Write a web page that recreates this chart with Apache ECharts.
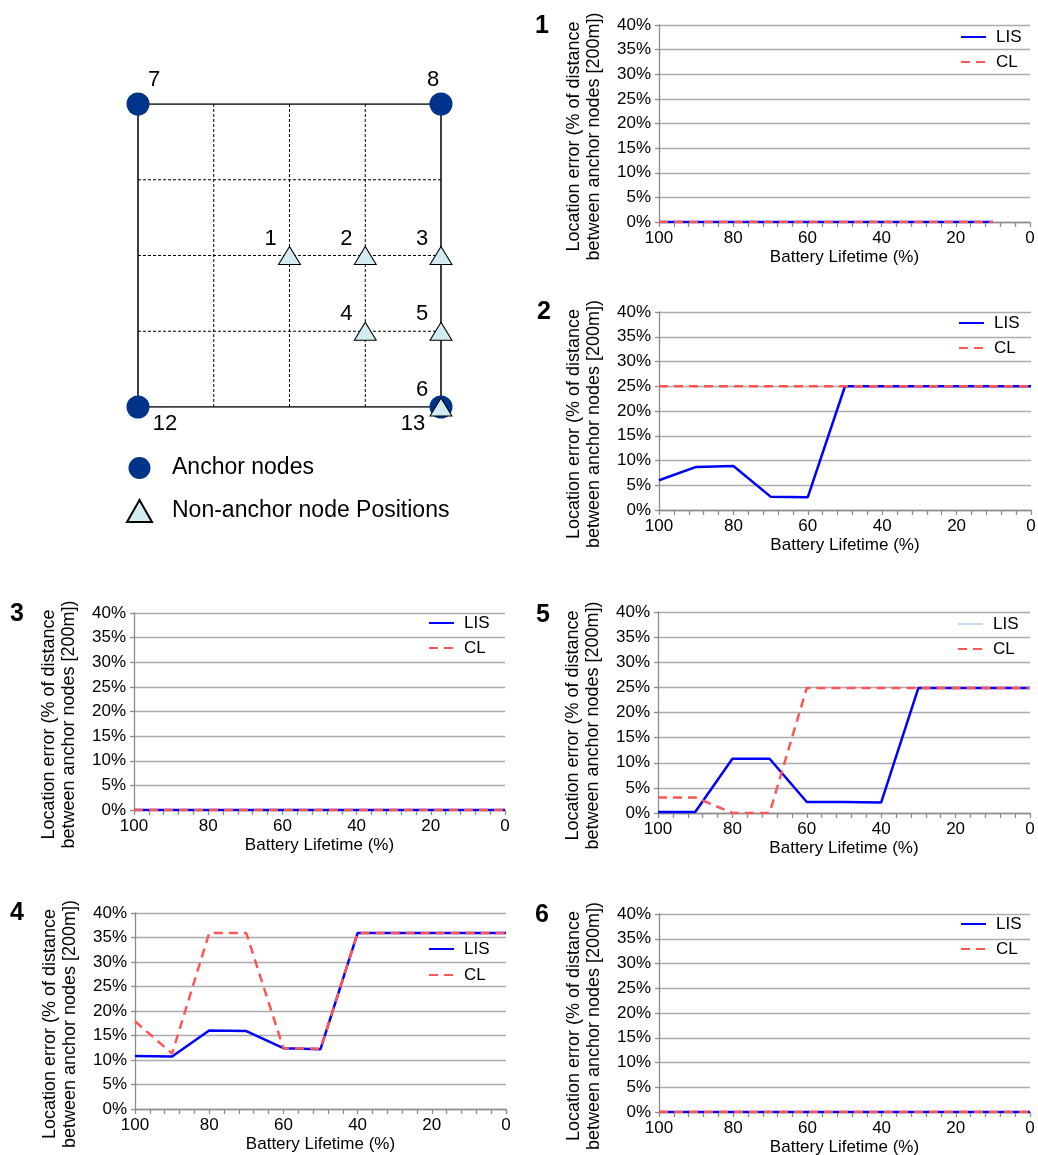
<!DOCTYPE html>
<html><head><meta charset="utf-8">
<script src="https://cdn.jsdelivr.net/npm/echarts@6/dist/echarts.min.js"></script>
<style>html,body{margin:0;padding:0;background:#fff}#c{width:1038px;height:1155px}</style>
</head><body><div id="c"></div>
<script>
// ---------- Diagram data (grid units, 0..4) ----------
const squareSize = 4;
const dashedLines = [1, 2, 3];
const anchorX = [0, 4, 0, 4];
const anchorY = [4, 4, 0, 0];
const anchorLabels = ['7', '8', '12', '13'];
const nodeX = [2, 3, 4, 3, 4, 4];
const nodeY = [2, 2, 2, 1, 1, 0];
const nodeLabels = ['1', '2', '3', '4', '5', '6'];
const diagramLegend = ['Anchor nodes', 'Non-anchor node Positions'];

// ---------- Chart data ----------
const lifetime = [100, 90, 80, 70, 60, 50, 40, 30, 20, 10, 0];
const lifetime1 = [100, 90, 80, 70, 60, 50, 40, 30, 20, 10];
const lis1 = [0, 0, 0, 0, 0, 0, 0, 0, 0, 0];
const cl1 = [0, 0, 0, 0, 0, 0, 0, 0, 0, 0];
const lis2 = [6.0, 8.7, 8.9, 2.7, 2.6, 25, 25, 25, 25, 25, 25];
const cl2 = [25, 25, 25, 25, 25, 25, 25, 25, 25, 25, 25];
const lis3 = [0, 0, 0, 0, 0, 0, 0, 0, 0, 0, 0];
const cl3 = [0, 0, 0, 0, 0, 0, 0, 0, 0, 0, 0];
const lis4 = [10.8, 10.7, 16.0, 15.9, 12.4, 12.2, 35.9, 35.9, 35.9, 35.9, 35.9];
const cl4 = [17.9, 11.3, 35.9, 35.9, 12.4, 12.3, 35.9, 35.9, 35.9, 35.9, 35.9];
const lis5 = [0.2, 0.2, 10.8, 10.8, 2.2, 2.2, 2.1, 24.9, 24.9, 24.9, 24.9];
const cl5 = [3.1, 3.1, 0, 0, 24.9, 24.9, 24.9, 24.9, 24.9, 24.9, 24.9];
const lis6 = [0, 0, 0, 0, 0, 0, 0, 0, 0, 0, 0];
const cl6 = [0, 0, 0, 0, 0, 0, 0, 0, 0, 0, 0];
const seriesNames = ['LIS', 'CL'];
const yMin = 0, yMax = 40, yStep = 5;
const xMin = 0, xMax = 100, xTickStep = 4, xLabelStep = 20;
const xAxisTitle = 'Battery Lifetime (%)';
const yAxisTitle = 'Location error (% of distance\nbetween anchor nodes [200m])';

// ---------- Layout / style ----------
const FONT = 'Liberation Sans, Arial, sans-serif';
const panels = [
  {num: '1', x: lifetime1, lis: lis1, cl: cl1, grid: {left: 659, top: 25, width: 371, height: 197}, leg: {left: 960, top: 28, gap: 7}, numPos: [542, 26]},
  {num: '2', x: lifetime, lis: lis2, cl: cl2, grid: {left: 659, top: 312, width: 372, height: 198}, leg: {left: 958, top: 314, gap: 7}, numPos: [544, 312]},
  {num: '3', x: lifetime, lis: lis3, cl: cl3, grid: {left: 134, top: 613, width: 371, height: 197}, leg: {left: 428, top: 614, gap: 7}, numPos: [17, 614]},
  {num: '5', x: lifetime, lis: lis5, cl: cl5, grid: {left: 658, top: 612, width: 372, height: 201}, leg: {left: 957, top: 615, gap: 7}, numPos: [543, 615], lisLegendColor: '#c5d9f1'},
  {num: '4', x: lifetime, lis: lis4, cl: cl4, grid: {left: 135, top: 913, width: 371, height: 196}, leg: {left: 428, top: 940, gap: 8}, numPos: [17, 913]},
  {num: '6', x: lifetime, lis: lis6, cl: cl6, grid: {left: 659, top: 914, width: 371, height: 198}, leg: {left: 960, top: 915, gap: 7}, numPos: [542, 915]}
];
const anchorLabelOffset = {'7': [16, -24], '8': [-8, -24], '12': [27, 17], '13': [-28, 17]};
const nodeLabelOffset = [-19, -17];

const grids = [{left: 138, top: 104, width: 303, height: 303, outerBoundsMode: 'none', containLabel: false}];
const xAxes = [{gridIndex: 0, type: 'value', min: 0, max: squareSize, show: false}];
const yAxes = [{gridIndex: 0, type: 'value', min: 0, max: squareSize, show: false}];
const series = [];
const legends = [];
const graphics = [];

// Diagram: dashed interior lines
dashedLines.forEach(v => {
  series.push({type: 'line', name: 'gridline', xAxisIndex: 0, yAxisIndex: 0, symbol: 'none', silent: true, z: 1,
    data: [[v, 0], [v, squareSize]], lineStyle: {color: '#000', width: 1, type: [3, 2]}});
  series.push({type: 'line', name: 'gridline', xAxisIndex: 0, yAxisIndex: 0, symbol: 'none', silent: true, z: 1,
    data: [[0, v], [squareSize, v]], lineStyle: {color: '#000', width: 1, type: [3, 2]}});
});
// Diagram: solid square
series.push({type: 'line', name: 'square', xAxisIndex: 0, yAxisIndex: 0, symbol: 'none', silent: true, z: 2,
  data: [[0, 0], [squareSize, 0], [squareSize, squareSize], [0, squareSize], [0, 0]],
  lineStyle: {color: '#000', width: 1.5}});
// Anchors
series.push({type: 'scatter', name: diagramLegend[0], xAxisIndex: 0, yAxisIndex: 0, z: 3,
  symbol: 'circle', symbolSize: 23, itemStyle: {color: '#00338a', opacity: 1},
  label: {show: true, formatter: '{b}', position: 'inside', fontSize: 22, color: '#000', fontFamily: FONT},
  data: anchorX.map((x, i) => ({name: anchorLabels[i], value: [x, anchorY[i]], label: {offset: anchorLabelOffset[anchorLabels[i]]}}))});
// Non-anchor nodes
series.push({type: 'scatter', name: diagramLegend[1], xAxisIndex: 0, yAxisIndex: 0, z: 4,
  symbol: 'triangle', symbolSize: [22, 18], itemStyle: {color: '#d3ecf2', borderColor: '#000', borderWidth: 1, opacity: 1},
  label: {show: true, formatter: '{b}', position: 'inside', offset: nodeLabelOffset, fontSize: 22, color: '#000', fontFamily: FONT},
  data: nodeX.map((x, i) => ({name: nodeLabels[i], value: [x, nodeY[i]]}))});

legends.push({data: diagramLegend, orient: 'vertical', left: 126, top: 456, padding: 0, itemWidth: 25, itemHeight: 22, itemGap: 19,
  selectedMode: false, itemStyle: {opacity: 1},
  textStyle: {fontSize: 23, lineHeight: 24, color: '#000', fontFamily: FONT, padding: [0, 0, 0, 15]}});

const gridColor = '#ababab', axisColor = '#8c8c8c';
panels.forEach((p, k) => {
  const gi = k + 1;
  grids.push(Object.assign({outerBoundsMode: 'none', containLabel: false}, p.grid));
  xAxes.push({gridIndex: gi, type: 'value', min: xMin, max: xMax, interval: xTickStep, inverse: true,
    name: xAxisTitle, nameLocation: 'middle', nameGap: 27,
    nameTextStyle: {fontSize: 17, color: '#000', fontFamily: FONT},
    axisLine: {show: true, onZero: false, lineStyle: {color: axisColor, width: 1.3}},
    axisTick: {show: true, length: 5, lineStyle: {color: axisColor, width: 1.3}},
    axisLabel: {fontSize: 17, color: '#000', margin: 8, fontFamily: FONT, hideOverlap: false,
      formatter: v => (v % xLabelStep === 0 ? String(v) : '')},
    splitLine: {show: false}});
  yAxes.push({gridIndex: gi, type: 'value', min: yMin, max: yMax, interval: yStep, position: 'left',
    name: yAxisTitle, nameLocation: 'middle', nameGap: 55,
    nameTextStyle: {fontSize: 18, lineHeight: 20, color: '#000', fontFamily: FONT, padding: [0, 26, 0, 0]},
    axisLine: {show: true, onZero: false, lineStyle: {color: axisColor, width: 1.3}},
    axisTick: {show: true, length: 4, lineStyle: {color: axisColor, width: 1.3}},
    axisLabel: {fontSize: 17, color: '#000', margin: 8, fontFamily: FONT, formatter: '{value}%'},
    splitLine: {show: true, lineStyle: {color: gridColor, width: 1.3}}});
  series.push({type: 'line', name: seriesNames[0], xAxisIndex: gi, yAxisIndex: gi, symbol: 'none', z: 5,
    lineStyle: {color: '#0000ff', width: 2.5}, itemStyle: {color: '#0000ff'},
    data: p.x.map((x, i) => [x, p.lis[i]])});
  series.push({type: 'line', name: seriesNames[1], xAxisIndex: gi, yAxisIndex: gi, symbol: 'none', z: 6,
    lineStyle: {color: '#ff5555', width: 2.5, type: [9, 6]}, itemStyle: {color: '#ff5555'},
    data: p.x.map((x, i) => [x, p.cl[i]])});
  const lisItem = p.lisLegendColor
    ? {name: seriesNames[0], lineStyle: {color: p.lisLegendColor, width: 2}}
    : seriesNames[0];
  legends.push({data: [lisItem, seriesNames[1]], orient: 'vertical', left: p.leg.left, top: p.leg.top, padding: 0,
    itemWidth: 25, itemHeight: 14, itemGap: p.leg.gap, selectedMode: false,
    itemStyle: {opacity: 0},
    textStyle: {fontSize: 17, lineHeight: 18, color: '#000', fontFamily: FONT, padding: [0, 0, 0, 5]}});
  graphics.push({type: 'text', x: p.numPos[0], y: p.numPos[1],
    style: {text: p.num, font: 'bold 25px ' + FONT, fill: '#000', textAlign: 'center', textVerticalAlign: 'middle'}});
});

const chart = echarts.init(document.getElementById('c'), null, {renderer: 'canvas'});
chart.setOption({
  animation: false,
  backgroundColor: '#fff',
  textStyle: {fontFamily: FONT},
  grid: grids, xAxis: xAxes, yAxis: yAxes, series: series, legend: legends, graphic: graphics
});
</script></body></html>
